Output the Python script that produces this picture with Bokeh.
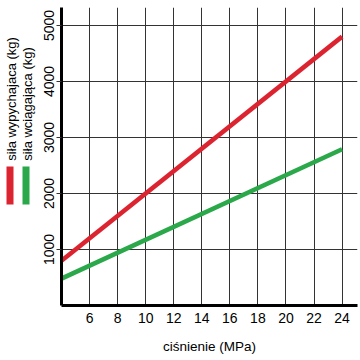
import math
from bokeh.plotting import figure
from bokeh.layouts import row
from bokeh.models import FixedTicker, Range1d
from bokeh.core.properties import value
from bokeh.embed import file_html
from bokeh.resources import INLINE

pressure = [4, 24]
push_force = [800, 4800]
pull_force = [480, 2790]
x_ticks = [6, 8, 10, 12, 14, 16, 18, 20, 22, 24]
y_ticks = [1000, 2000, 3000, 4000, 5000]
x_label = "ciśnienie (MPa)"
push_label = "siła wypychajaca (kg)"
pull_label = "siła wciągająca (kg)"

RED = "#dc2330"
GREEN = "#2aa84a"
FONT = "Liberation Sans"

LEG_W = 36
W = 360
H = 360

# ---- legend strip (pixel-like coordinates) ----
leg = figure(width=LEG_W, height=H, output_backend="svg", toolbar_location=None,
             x_range=Range1d(0, LEG_W), y_range=Range1d(0, H),
             min_border=0, min_border_left=0, min_border_right=0,
             min_border_top=0, min_border_bottom=0)
leg.axis.visible = False
leg.grid.visible = False
leg.outline_line_color = None
leg.text(x=[10.5, 27], y=[175, 175], text=[push_label, pull_label], angle=math.pi / 2,
         text_align="left", text_baseline="middle", text_font=value(FONT),
         text_font_size="13px", text_color="black")
leg.quad(left=[6, 22], right=[13, 29], bottom=[122, 122], top=[168, 168],
         fill_color=[RED, GREEN], line_color=None)

# ---- main chart ----
p = figure(width=W - LEG_W, height=H, output_backend="svg", toolbar_location=None,
           x_range=Range1d(4, 25.1), y_range=Range1d(0, 5320),
           min_border_left=25, min_border_right=3, min_border_top=7, min_border_bottom=55)
p.outline_line_color = None

p.line(pressure, push_force, line_color=RED, line_width=4.5)
p.line(pressure, pull_force, line_color=GREEN, line_width=4.5)

p.xaxis.ticker = FixedTicker(ticks=x_ticks)
p.yaxis.ticker = FixedTicker(ticks=y_ticks)
p.xgrid.ticker = FixedTicker(ticks=x_ticks)
p.ygrid.ticker = FixedTicker(ticks=y_ticks)
for g in (p.xgrid, p.ygrid):
    g.grid_line_color = "#333333"
    g.grid_line_width = 1
    g.grid_line_alpha = 1

for ax in (p.xaxis, p.yaxis):
    ax.axis_line_color = "black"
    ax.axis_line_width = 3
    ax.minor_tick_line_color = None
    ax.major_label_text_font = FONT
    ax.major_label_text_font_size = "14px"
    ax.major_label_text_color = "black"
    ax.major_tick_in = 0

p.xaxis.major_tick_out = 0
p.xaxis.major_tick_line_color = None
p.xaxis.major_label_standoff = 7
p.yaxis.major_tick_out = 5
p.yaxis.major_tick_line_color = "#333333"
p.yaxis.major_label_standoff = 2
p.yaxis.major_label_orientation = "vertical"

p.xaxis.axis_label = x_label
p.xaxis.axis_label_text_font = FONT
p.xaxis.axis_label_text_font_size = "13.5px"
p.xaxis.axis_label_text_font_style = "normal"
p.xaxis.axis_label_text_color = "black"
p.xaxis.axis_label_standoff = 13

layout = row(leg, p, spacing=0)
open("out.html", "w").write(file_html(layout, INLINE))
